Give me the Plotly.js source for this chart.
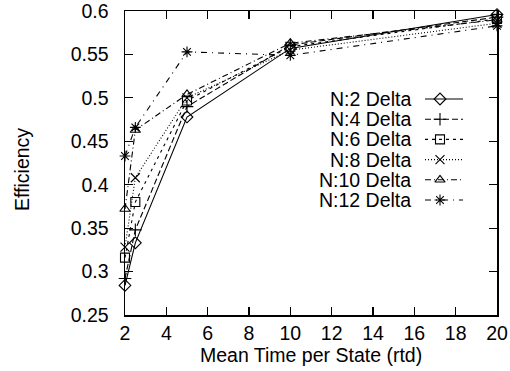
<!DOCTYPE html>
<html>
<head>
<meta charset="utf-8">
<script src="https://cdn.plot.ly/plotly-3.0.1.min.js"></script>
<style>html,body{margin:0;padding:0;background:#fff;}#chart{width:510px;height:371px;}</style>
</head>
<body>
<div id="chart"></div>
<script>
// ---- data ----
const meanTime = [2, 2.5, 5, 10, 20];
const seriesNames = ["N:2 Delta", "N:4 Delta", "N:6 Delta", "N:8 Delta", "N:10 Delta", "N:12 Delta"];
const effN2  = [0.284, 0.333, 0.478, 0.557, 0.596];
const effN4  = [0.292, 0.348, 0.490, 0.561, 0.593];
const effN6  = [0.316, 0.380, 0.497, 0.559, 0.591];
const effN8  = [0.328, 0.408, 0.500, 0.555, 0.586];
const effN10 = [0.372, 0.463, 0.504, 0.563, 0.590];
const effN12 = [0.433, 0.466, 0.553, 0.549, 0.583];
const xTicks = [2, 4, 6, 8, 10, 12, 14, 16, 18, 20];
const yTicks = [0.25, 0.3, 0.35, 0.4, 0.45, 0.5, 0.55, 0.6];
const yTickText = ["0.25", "0.3", "0.35", "0.4", "0.45", "0.5", "0.55", "0.6"];

// ---- styles ----
const allSeries = [effN2, effN4, effN6, effN8, effN10, effN12];
const symbols = ["diamond-open", "cross-thin-open", "square-open", "x-thin-open", "triangle-up-open", "asterisk-open"];
const dashes = ["solid", "6px,3px", "3px,4px", "1px,2px", "6px,3px,1px,3px", "6px,5px,1px,5px"];
const FONT = "Liberation Sans, Arial, Helvetica, sans-serif";
const FS = 19.5;

// plot area in pixels
const PL = 125, PR = 497, PT = 11, PB = 315;
const px2x = p => (p - PL) / (PR - PL);
const px2y = p => 1 - (p - PT) / (PB - PT);

const traces = [];
allSeries.forEach((ys, i) => {
  traces.push({
    x: meanTime, y: ys, type: "scatter", mode: "lines+markers",
    line: {color: "#000", width: 1.1, dash: dashes[i]},
    marker: {symbol: symbols[i], size: 9, color: "#000", line: {color: "#000", width: 1.1}},
    cliponaxis: false, showlegend: false, name: seriesNames[i]
  });
});

// legend (gnuplot style: text right-aligned, sample to the right)
const annotations = [];
const rowY0 = 99, rowDY = 20.2;
seriesNames.forEach((nm, i) => {
  const py = rowY0 + i * rowDY;
  const yy = px2y(py);
  traces.push({
    x: [px2x(425), px2x(463)], y: [yy, yy], xaxis: "x2", yaxis: "y2",
    type: "scatter", mode: "lines", line: {color: "#000", width: 1.1, dash: dashes[i]},
    showlegend: false, hoverinfo: "skip"
  });
  traces.push({
    x: [px2x(440)], y: [yy], xaxis: "x2", yaxis: "y2",
    type: "scatter", mode: "markers",
    marker: {symbol: symbols[i], size: 9, color: "#000", line: {color: "#000", width: 1.1}},
    showlegend: false, hoverinfo: "skip", cliponaxis: false
  });
  annotations.push({
    xref: "paper", yref: "paper", x: px2x(413), y: yy, xanchor: "right", yanchor: "middle",
    text: nm, showarrow: false, font: {family: FONT, size: FS, color: "#000"}
  });
});

annotations.push({
  xref: "paper", yref: "paper", x: 0.5, y: px2y(355), xanchor: "center", yanchor: "middle",
  text: "Mean Time per State (rtd)", showarrow: false, font: {family: FONT, size: FS, color: "#000"}
});
annotations.push({
  xref: "paper", yref: "paper", x: px2x(22), y: px2y(170), xanchor: "center", yanchor: "middle",
  text: "Efficiency", textangle: -90, showarrow: false, font: {family: FONT, size: FS, color: "#000"}
});

const layout = {
  width: 510, height: 371,
  margin: {l: PL, r: 510 - PR, t: PT, b: 371 - PB},
  paper_bgcolor: "#fff", plot_bgcolor: "#fff",
  showlegend: false,
  font: {family: FONT, size: FS, color: "#000"},
  xaxis: {
    range: [2, 20], tickvals: xTicks, ticktext: xTicks.map(String),
    ticks: "inside", ticklen: 8, tickwidth: 1.2, tickcolor: "#000",
    showline: true, linecolor: "#000", linewidth: 1.5, mirror: "allticks",
    showgrid: false, zeroline: false, ticklabelstandoff: 0, ticklabeloverflow: "allow",
    tickfont: {family: FONT, size: FS, color: "#000"}
  },
  yaxis: {
    range: [0.2499, 0.6001], tickvals: yTicks, ticktext: yTickText,
    ticks: "inside", ticklen: 8, tickwidth: 1.2, tickcolor: "#000",
    showline: true, linecolor: "#000", linewidth: 1.5, mirror: "allticks",
    showgrid: false, zeroline: false, ticklabelstandoff: 11, ticklabeloverflow: "allow",
    tickfont: {family: FONT, size: FS, color: "#000"}
  },
  xaxis2: {range: [0, 1], overlaying: "x", visible: false, fixedrange: true},
  yaxis2: {range: [0, 1], overlaying: "y", visible: false, fixedrange: true},
  annotations: annotations
};

Plotly.newPlot("chart", traces, layout, {displayModeBar: false, staticPlot: true});
</script>
</body>
</html>
